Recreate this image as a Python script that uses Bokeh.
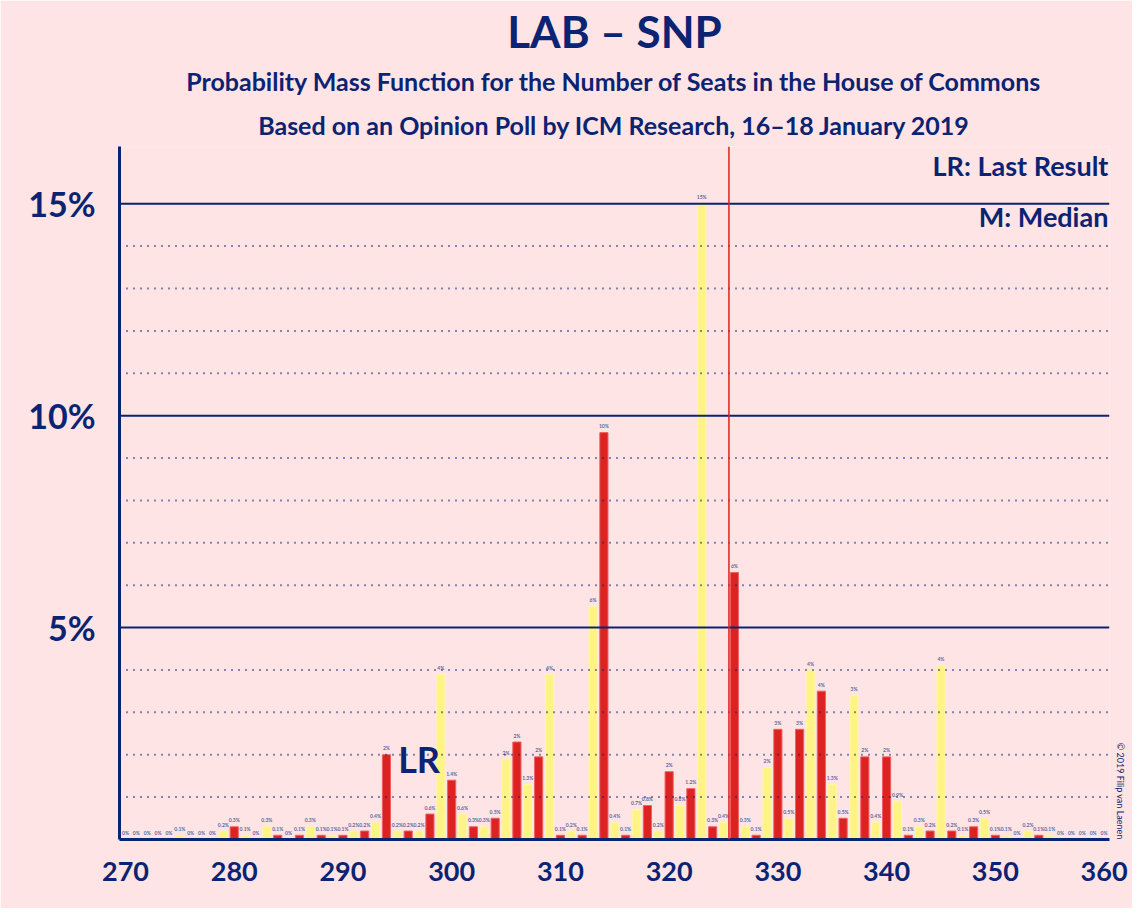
from bokeh.plotting import figure
from bokeh.models import ColumnDataSource, Span, Label, FixedTicker, Range1d, Title
from bokeh.core.properties import value
from bokeh.embed import file_html
from bokeh.resources import INLINE

seats = list(range(270, 361))
probs = [0, 0, 0, 0, 0, 0.1, 0, 0, 0, 0.2,
         0.3, 0.1, 0, 0.3, 0.1, 0, 0.1, 0.3, 0.1, 0.1,
         0.1, 0.2, 0.2, 0.4, 2.0, 0.2, 0.2, 0.2, 0.6, 3.9,
         1.4, 0.6, 0.3, 0.3, 0.5, 1.9, 2.3, 1.3, 1.95, 3.9,
         0.1, 0.2, 0.1, 5.5, 9.6, 0.4, 0.1, 0.7, 0.8, 0.2,
         1.6, 0.8, 1.2, 15.0, 0.3, 0.4, 6.3, 0.3, 0.1, 1.7,
         2.6, 0.5, 2.6, 4.0, 3.5, 1.3, 0.5, 3.4, 1.95, 0.4,
         1.95, 0.9, 0.1, 0.3, 0.2, 4.1, 0.2, 0.1, 0.3, 0.5,
         0.1, 0.1, 0, 0.2, 0.1, 0.1, 0, 0, 0, 0, 0]
last_result = 297
majority = 325.5

NAVY = "#0A2372"
RED = "#DD2222"
YELLOW = "#FFF385"
BG = "#FFE4E6"
FONT = "Lato"

def fmt(v):
    if v < 1.5:
        return "%s%%" % (("%.1f" % v).rstrip("0").rstrip(".") if v > 0 else "0")
    return "%d%%" % round(v)

colors = [RED if s % 2 == 0 else YELLOW for s in seats]
lines = ["#F06060" if s % 2 == 0 else "#FFF6A8" for s in seats]
src = ColumnDataSource(dict(x=seats, top=probs, color=colors, line=lines,
                            lab=[fmt(v) for v in probs],
                            ly=[v + 0.08 for v in probs]))

p = figure(width=1132, height=908, output_backend="svg", toolbar_location=None,
           x_range=Range1d(269.45, 360.5), y_range=Range1d(0, 16.35),
           min_border_left=119, min_border_right=4, min_border_top=10,
           min_border_bottom=69)
p.background_fill_color = BG
p.border_fill_color = BG
p.outline_line_color = None
p.grid.grid_line_color = None

def title(t, size, standoff):
    p.add_layout(Title(text=t, text_font=FONT, text_font_size=size, text_color=NAVY,
                       text_font_style="bold", align="center", standoff=standoff),
                 "above")

title("Based on an Opinion Poll by ICM Research, 16–18 January 2019", "25px", 14)
title("Probability Mass Function for the Number of Seats in the House of Commons", "25px", 10)
title("LAB – SNP", "44px", 4)
p.add_layout(Title(text="© 2019 Filip van Laenen", text_font=FONT, text_font_size="9px",
                   text_color=NAVY, text_font_style="normal", align="right"), "right")

for g in range(1, 16):
    if g % 5 == 0:
        p.add_layout(Span(location=g, dimension="width", line_color=NAVY, line_width=2))
    else:
        p.add_layout(Span(location=g, dimension="width", line_color=NAVY,
                          line_width=2, line_dash="1 6"))

p.vbar(x="x", top="top", width=0.75, fill_color="color", line_color="line",
       line_width=1, source=src)
p.text(x="x", y="ly", text="lab", source=src, text_font=value(FONT),
       text_font_size="5px", text_color="#5A6A9A", text_align="center",
       text_baseline="bottom", text_font_style="bold")

p.add_layout(Span(location=majority, dimension="height", line_color="#DD2222",
                  line_width=1.5))

p.xaxis.ticker = FixedTicker(ticks=list(range(270, 361, 10)))
p.yaxis.ticker = FixedTicker(ticks=[5, 10, 15])
p.yaxis.major_label_overrides = {5: "5%", 10: "10%", 15: "15%"}
for ax in (p.xaxis, p.yaxis):
    ax.axis_line_color = NAVY
    ax.axis_line_width = 3
    ax.major_tick_line_color = None
    ax.minor_tick_line_color = None
    ax.major_label_text_color = NAVY
    ax.major_label_text_font = FONT
    ax.major_label_text_font_style = "bold"
p.xaxis.major_label_text_font_size = "27px"
p.yaxis.major_label_text_font_size = "34px"
p.yaxis.major_label_standoff = 18
p.xaxis.major_label_standoff = 16

def lab(x, y, t, size, align="center"):
    p.add_layout(Label(x=x, y=y, text=t, text_font=FONT, text_font_size=size,
                       text_color=NAVY, text_font_style="bold", text_align=align,
                       text_baseline="middle"))

lab(360.4, 15.9, "LR: Last Result", "27px", align="right")
lab(360.4, 14.7, "M: Median", "27px", align="right")
lab(last_result, 1.9, "LR", "36px")

open("out.html", "w").write(file_html(p, INLINE))
